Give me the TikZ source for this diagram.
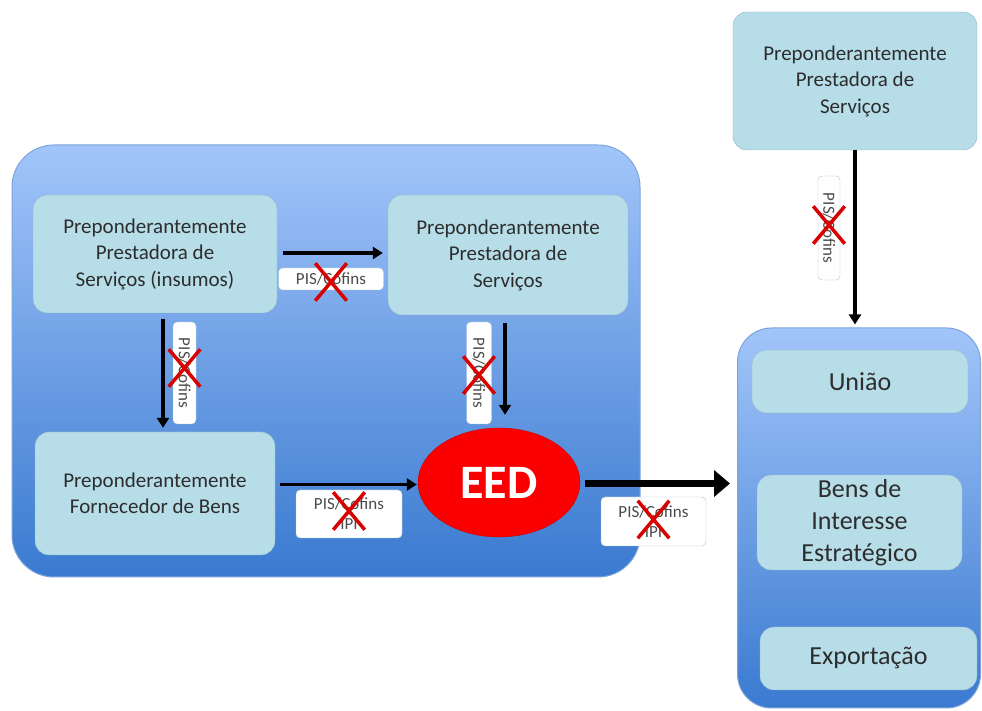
\documentclass[tikz,border=0pt]{standalone}
\usepackage{fontspec}
\setmainfont{Carlito}
\usetikzlibrary{positioning, shapes.geometric, shapes.misc, arrows.meta, calc}
\definecolor{boxblue}{RGB}{183,221,232}
\definecolor{boxedge}{RGB}{140,180,202}
\definecolor{paneltop}{RGB}{162,197,250}
\definecolor{panelbottom}{RGB}{58,122,208}
\definecolor{paneledge}{RGB}{125,165,218}
\definecolor{textgray}{RGB}{45,45,45}
\definecolor{eedred}{RGB}{250,0,0}

\begin{document}
\begin{tikzpicture}[x=1pt, y=1pt,
    panel/.style={draw=paneledge, line width=1pt, rounded corners=42pt, top color=paneltop, bottom color=panelbottom},
    entity/.style={draw=boxedge, fill=boxblue, rounded corners=14pt, align=center, text=textgray, inner sep=2pt, font=\fontsize{21}{26.5}\selectfont},
    target/.style={entity, font=\fontsize{26}{32}\selectfont},
    tax/.style={draw=boxedge!80, fill=white, rounded corners=4pt, font=\fontsize{17}{20}\selectfont, text=gray!60!black, align=center, inner sep=1pt},
    flow/.style={-{Triangle[length=10pt,width=12pt]}, line width=3.5pt},
    nope/.style={cross out, draw=red!85!black, line width=3.5pt, minimum width=28pt, minimum height=34pt, inner sep=0pt}
]
    \useasboundingbox (0,0) rectangle (982,711);

    % Containers
    \node[panel, minimum width=628, minimum height=432] (left) at (326,350) {};
    \node[panel, rounded corners=34pt, minimum width=243, minimum height=380] (dest) at (859,193) {};

    % Entities inside the left container
    \node[entity, minimum width=244, minimum height=118] (ins) at (155,457) {Preponderantemente\\Prestadora de\\Serviços (insumos)};
    \node[entity, minimum width=240, minimum height=120] (srv) at (508,456) {Preponderantemente\\Prestadora de\\Serviços};
    \node[entity, minimum width=240, minimum height=123] (bens) at (155,217.5) {Preponderantemente\\Fornecedor de Bens};
    \node[ellipse, draw=red!80!black, fill=eedred, minimum width=162, minimum height=109, text=white, font=\fontsize{48}{48}\selectfont\bfseries] (eed) at (499,228.5) {EED};

    % Top right entity
    \node[entity, minimum width=244, minimum height=138] (top) at (855,630) {Preponderantemente\\Prestadora de\\Serviços};

    % Destinations
    \node[target, minimum width=216, minimum height=63] (uniao) at (860,329.5) {União};
    \node[target, minimum width=205, minimum height=95] (bis) at (859.5,188.5) {Bens de\\Interesse\\Estratégico};
    \node[target, minimum width=217, minimum height=63] (exp) at (868.5,52.5) {Exportação};

    % Connectors
    \draw[flow, shorten <=6pt, shorten >=5pt] ([yshift=1pt]ins.east) -- ([yshift=1pt]ins.east -| srv.west);
    \draw[flow, shorten <=6pt, shorten >=4pt] ([xshift=8pt]ins.south) -- ([xshift=8pt]ins.south |- bens.north);
    \draw[flow, shorten <=8pt, shorten >=13pt] ([xshift=-3pt]srv.south) -- ([xshift=-3pt]srv.south |- eed.north);
    \draw[flow, shorten <=5pt, shorten >=1pt] ([yshift=9pt]bens.east) -- ([yshift=9pt]bens.east -| eed.west);
    \draw[-{Triangle[length=16pt,width=26pt]}, line width=7pt, shorten <=5pt, shorten >=7pt] ([yshift=-1pt]eed.east) -- ([yshift=-1pt]eed.east -| dest.west);
    \draw[flow, shorten >=3pt] (top.south) -- (top.south |- dest.north);

    % Tax labels
    \node[tax, minimum width=105, minimum height=22] (t1) at (331,432) {PIS/Cofins};
    \node[tax, rotate=-90, minimum width=102, minimum height=23] (t2) at (184.5,338) {PIS/Cofins};
    \node[tax, rotate=-90, minimum width=102, minimum height=25] (t3) at (479,338) {PIS/Cofins};
    \node[tax, minimum width=106, minimum height=48] (t4) at (349,197) {PIS/Cofins\\IPI};
    \node[tax, minimum width=105, minimum height=49] (t5) at (653.5,189.5) {PIS/Cofins\\IPI};
    \node[tax, rotate=-90, minimum width=104, minimum height=22] (t6) at (829,483) {PIS/Cofins};

    % Red crosses
    \node[nope] (x1) at ([yshift=-3pt]t1) {};
    \node[nope] (x2) at ([yshift=5pt]t2) {};
    \node[nope] (x3) at ([yshift=-2pt]t3) {};
    \node[nope] (x4) at ([yshift=3pt]t4) {};
    \node[nope] (x5) at ([yshift=2pt]t5) {};
    \node[nope] (x6) at ([yshift=3pt]t6) {};
\end{tikzpicture}
\end{document}
